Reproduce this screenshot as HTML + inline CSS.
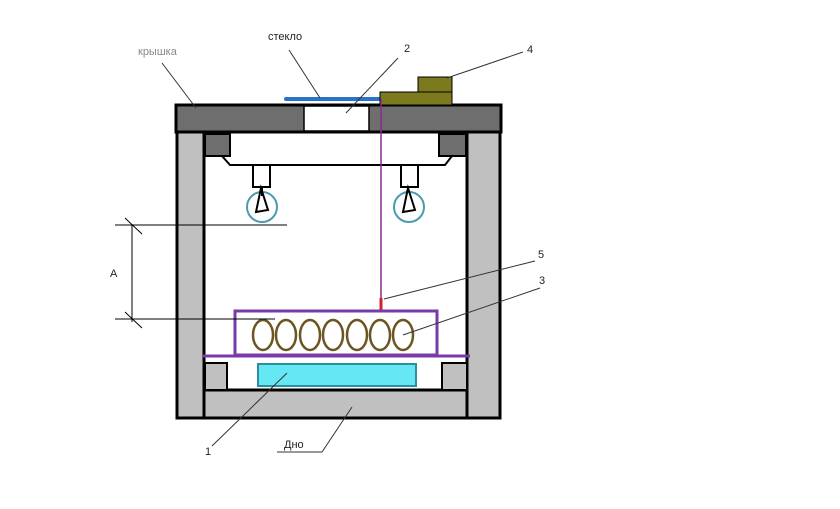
<!DOCTYPE html>
<html><head><meta charset="utf-8"><style>
html,body{margin:0;padding:0;background:#fff;}
svg{display:block;}
text{font-family:"Liberation Sans",sans-serif;font-size:11px;fill:#222;}
</style></head><body>
<svg width="840" height="509" viewBox="0 0 840 509" xmlns="http://www.w3.org/2000/svg">
<rect width="840" height="509" fill="#fff"/>
<!-- walls -->
<rect x="177" y="132" width="27" height="286" fill="#c0c0c0" stroke="#000" stroke-width="3"/>
<rect x="467" y="132" width="33" height="286" fill="#c0c0c0" stroke="#000" stroke-width="3"/>
<rect x="204" y="390" width="263" height="28" fill="#c0c0c0" stroke="#000" stroke-width="3"/>
<!-- lid -->
<rect x="176" y="105" width="325" height="27" fill="#6e6e6e" stroke="#000" stroke-width="3"/>
<rect x="304" y="106" width="65" height="25" fill="#fff" stroke="#000" stroke-width="1.5"/>
<!-- top corner blocks -->
<rect x="205" y="134" width="25" height="22" fill="#6e6e6e" stroke="#000" stroke-width="2"/>
<rect x="439" y="134" width="27" height="22" fill="#6e6e6e" stroke="#000" stroke-width="2"/>
<polyline points="222,156 230,165 445,165 452,156" fill="none" stroke="#000" stroke-width="2"/>
<!-- bulbs -->
<rect x="253" y="165" width="17" height="22" fill="#fff" stroke="#000" stroke-width="2"/>
<rect x="401" y="165" width="17" height="22" fill="#fff" stroke="#000" stroke-width="2"/>
<circle cx="262" cy="207" r="15" fill="none" stroke="#4a9ab0" stroke-width="2"/>
<circle cx="409" cy="207" r="15" fill="none" stroke="#4a9ab0" stroke-width="2"/>
<path d="M261,188 L256,212 L268,210 Z M262,188 L262,196" fill="none" stroke="#000" stroke-width="2"/>
<path d="M408,188 L403,212 L415,210 Z" fill="none" stroke="#000" stroke-width="2"/>
<!-- glass -->
<line x1="286" y1="99" x2="382" y2="99" stroke="#2a74c8" stroke-width="4" stroke-linecap="round"/>
<!-- item 4 -->
<rect x="380" y="92" width="72" height="13" fill="#7d7a1e" stroke="#000" stroke-width="1"/>
<rect x="418" y="77" width="34" height="15" fill="#7d7a1e" stroke="#000" stroke-width="1"/>
<!-- sensor wire -->
<line x1="381" y1="99" x2="381" y2="302" stroke="#8a2a8a" stroke-width="1.5"/>
<line x1="381" y1="298" x2="381" y2="311" stroke="#d02030" stroke-width="3"/>
<!-- bottom corner blocks -->
<rect x="205" y="363" width="22" height="27" fill="#c0c0c0" stroke="#000" stroke-width="2"/>
<rect x="442" y="363" width="25" height="27" fill="#c0c0c0" stroke="#000" stroke-width="2"/>
<!-- cyan -->
<rect x="258" y="364" width="158" height="22" fill="#66e8f4" stroke="#2a90a0" stroke-width="2"/>
<!-- shelf -->
<line x1="203" y1="356" x2="470" y2="356" stroke="#7a3aa8" stroke-width="3"/>
<rect x="235" y="311" width="202" height="44" fill="none" stroke="#7a3aa8" stroke-width="3"/>
<g fill="none" stroke="#6b5520" stroke-width="2.5">
<ellipse cx="263" cy="335" rx="10" ry="15"/><ellipse cx="286" cy="335" rx="10" ry="15"/>
<ellipse cx="310" cy="335" rx="10" ry="15"/><ellipse cx="333" cy="335" rx="10" ry="15"/>
<ellipse cx="357" cy="335" rx="10" ry="15"/><ellipse cx="380" cy="335" rx="10" ry="15"/>
<ellipse cx="403" cy="335" rx="10" ry="15"/>
</g>
<!-- dimension -->
<g stroke="#000" stroke-width="1">
<line x1="132" y1="224" x2="132" y2="322"/>
<line x1="115" y1="225" x2="287" y2="225"/>
<line x1="115" y1="319" x2="275" y2="319"/>
<line x1="125" y1="218" x2="142" y2="234"/>
<line x1="125" y1="312" x2="142" y2="328"/>
</g>
<text x="110" y="277">A</text>
<!-- leaders -->
<g stroke="#333" stroke-width="1" fill="none">
<line x1="162" y1="63" x2="196" y2="108"/>
<line x1="289" y1="50" x2="320" y2="98"/>
<line x1="398" y1="58" x2="346" y2="113"/>
<line x1="523" y1="52" x2="447" y2="78"/>
<line x1="535" y1="261" x2="384" y2="299"/>
<line x1="540" y1="288" x2="403" y2="335"/>
<line x1="212" y1="446" x2="287" y2="373"/>
<polyline points="277,452 322,452 352,407"/>
</g>
<text x="138" y="55" style="fill:#888">крышка</text>
<text x="268" y="40">стекло</text>
<text x="404" y="52">2</text>
<text x="527" y="53">4</text>
<text x="538" y="258">5</text>
<text x="539" y="284">3</text>
<text x="205" y="455">1</text>
<text x="284" y="448">Дно</text>
</svg>
</body></html>
